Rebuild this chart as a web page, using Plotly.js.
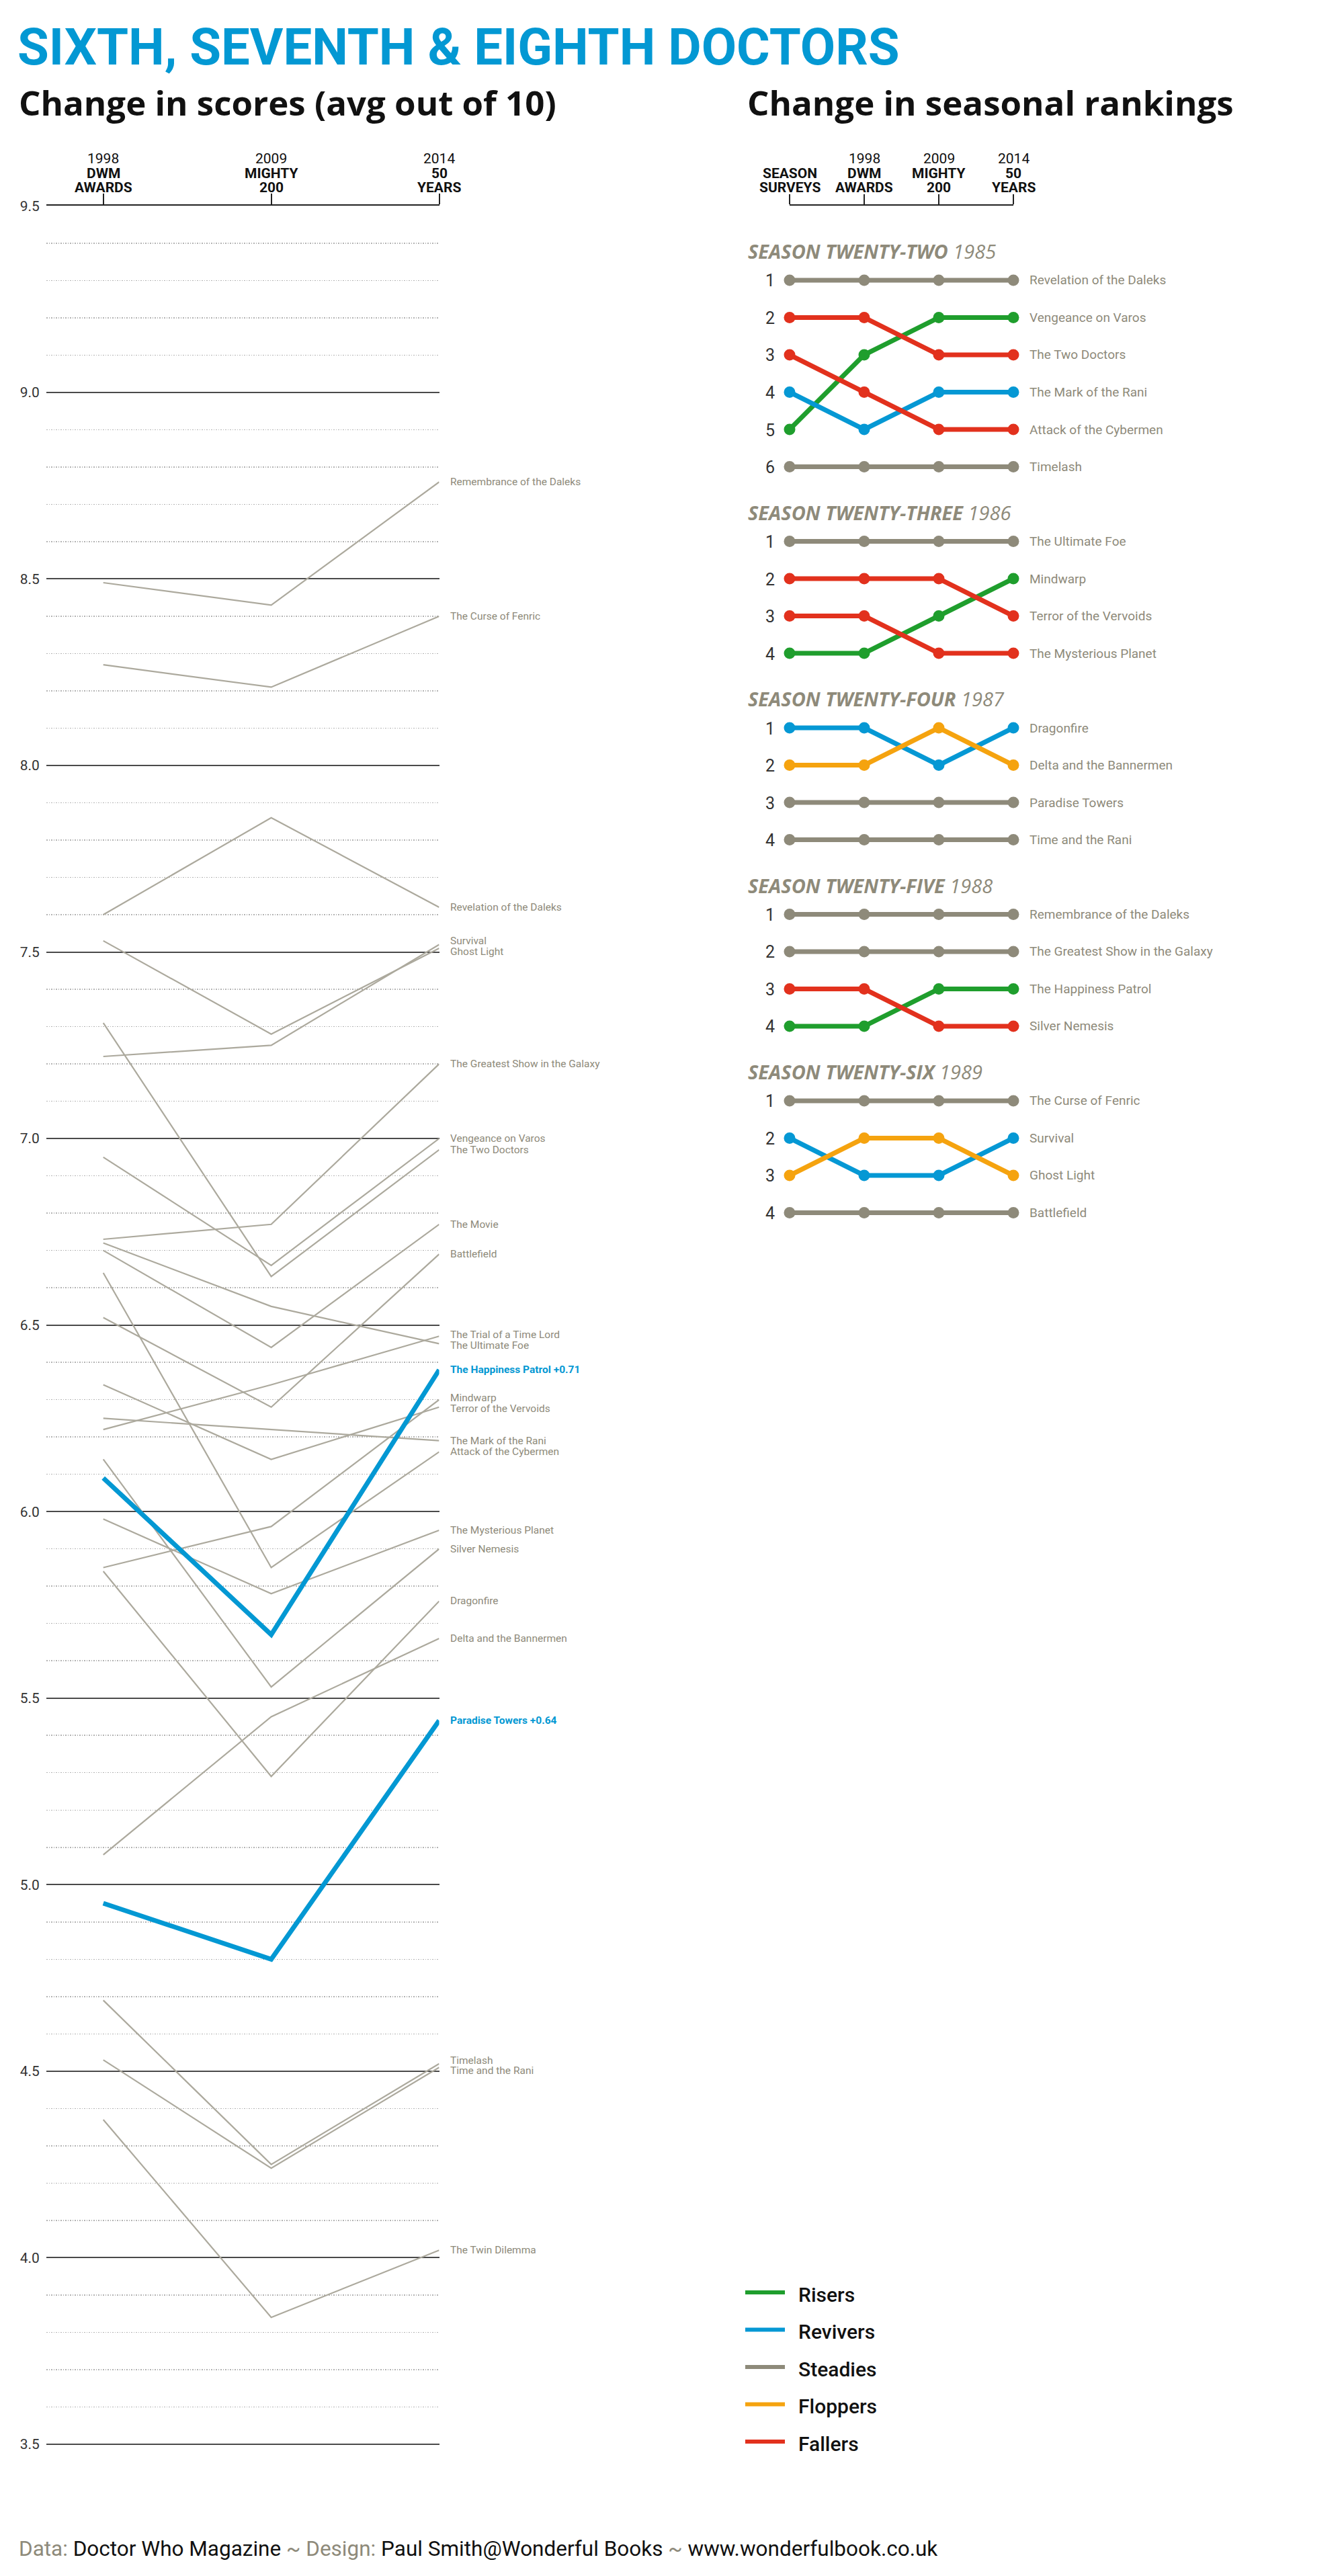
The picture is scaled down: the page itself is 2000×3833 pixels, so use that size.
<!DOCTYPE html>
<html><head><meta charset="utf-8">
<script src="https://cdn.plot.ly/plotly-3.0.1.min.js"></script>
<style>html,body{margin:0;padding:0;background:#fff}#chart{width:2000px;height:3833px}</style>
</head><body><div id="chart"></div>
<script>
// ================= DATA =================
// Left chart: average scores out of 10
const scoreYears = ['1998', '2009', '2014'];
const scoreSources = [['DWM', 'AWARDS'], ['MIGHTY', '200'], ['50', 'YEARS']];
const stories = [
  'Remembrance of the Daleks', 'The Curse of Fenric', 'Revelation of the Daleks', 'Survival', 'Ghost Light',
  'The Greatest Show in the Galaxy', 'Vengeance on Varos', 'The Two Doctors', 'The Movie', 'Battlefield',
  'The Trial of a Time Lord', 'The Ultimate Foe', 'The Happiness Patrol', 'Mindwarp', 'Terror of the Vervoids',
  'The Mark of the Rani', 'Attack of the Cybermen', 'The Mysterious Planet', 'Silver Nemesis', 'Dragonfire',
  'Delta and the Bannermen', 'Paradise Towers', 'Timelash', 'Time and the Rani', 'The Twin Dilemma'
];
const scores1998 = [8.49, 8.27, 7.60, 7.22, 7.53, 6.73, 6.95, 7.31, 6.70, 6.52, 6.22, 6.72, 6.09, 5.85, 6.34, 6.25, 6.64, 5.98, 6.14, 5.84, 5.08, 4.95, 4.69, 4.53, 4.37];
const scores2009 = [8.43, 8.21, 7.86, 7.25, 7.28, 6.77, 6.66, 6.63, 6.44, 6.28, 6.34, 6.55, 5.67, 5.96, 6.14, 6.22, 5.85, 5.78, 5.53, 5.29, 5.45, 4.80, 4.25, 4.24, 3.84];
const scores2014 = [8.76, 8.40, 7.62, 7.52, 7.51, 7.20, 7.00, 6.97, 6.77, 6.69, 6.47, 6.45, 6.38, 6.30, 6.28, 6.19, 6.16, 5.95, 5.90, 5.76, 5.66, 5.44, 4.52, 4.51, 4.02];
const highlightedStories = ['The Happiness Patrol', 'Paradise Towers'];
const scoreTicks = [3.5, 4.0, 4.5, 5.0, 5.5, 6.0, 6.5, 7.0, 7.5, 8.0, 8.5, 9.0, 9.5];

// Right chart: seasonal rankings [season survey, 1998, 2009, 2014]
const rankColumns = [['', 'SEASON', 'SURVEYS'], ['1998', 'DWM', 'AWARDS'], ['2009', 'MIGHTY', '200'], ['2014', '50', 'YEARS']];
const seasonNames = ['SEASON TWENTY-TWO', 'SEASON TWENTY-THREE', 'SEASON TWENTY-FOUR', 'SEASON TWENTY-FIVE', 'SEASON TWENTY-SIX'];
const seasonYears = ['1985', '1986', '1987', '1988', '1989'];
const rankStories = [
  'Revelation of the Daleks', 'Vengeance on Varos', 'The Two Doctors', 'The Mark of the Rani', 'Attack of the Cybermen', 'Timelash',
  'The Ultimate Foe', 'Mindwarp', 'Terror of the Vervoids', 'The Mysterious Planet',
  'Dragonfire', 'Delta and the Bannermen', 'Paradise Towers', 'Time and the Rani',
  'Remembrance of the Daleks', 'The Greatest Show in the Galaxy', 'The Happiness Patrol', 'Silver Nemesis',
  'The Curse of Fenric', 'Survival', 'Ghost Light', 'Battlefield'
];
const rankSeason = [0,0,0,0,0,0, 1,1,1,1, 2,2,2,2, 3,3,3,3, 4,4,4,4];
const rankSurvey = [1,5,2,4,3,6, 1,4,2,3, 1,2,3,4, 1,2,4,3, 1,2,3,4];
const rank1998   = [1,3,2,5,4,6, 1,4,2,3, 1,2,3,4, 1,2,4,3, 1,3,2,4];
const rank2009   = [1,2,3,4,5,6, 1,3,2,4, 2,1,3,4, 1,2,3,4, 1,3,2,4];
const rank2014   = [1,2,3,4,5,6, 1,2,3,4, 1,2,3,4, 1,2,3,4, 1,2,3,4];
const rankGroup  = ['Steadies','Risers','Fallers','Revivers','Fallers','Steadies',
  'Steadies','Risers','Fallers','Fallers',
  'Revivers','Floppers','Steadies','Steadies',
  'Steadies','Steadies','Risers','Fallers',
  'Steadies','Revivers','Floppers','Steadies'];
const groupNames = ['Risers', 'Revivers', 'Steadies', 'Floppers', 'Fallers'];

// ================= STYLE / LAYOUT =================
const W = 2000, H = 3833;
const py = px => 1 - px / H;
const groupColors = {Risers: '#1f9e2d', Revivers: '#0598d4', Steadies: '#8e8a7a', Floppers: '#f5a30f', Fallers: '#e2311d'};
const BLUE = '#0398d3', OLIVE = '#8e8a7a', LINEGRAY = '#aca99d';
const FONT = 'Roboto, "Open Sans", sans-serif';
const HFONT = '"Open Sans", Roboto, sans-serif';

// left axis geometry
const Y_TOP = 306.4, Y_BOT = 3637;
// right axis geometry
const SLOT0 = 417, SLOT = 55.5, R_BOT = 1900;

const traces = [];
// left chart lines (grey first, highlights last)
const order = stories.map((s, i) => i).sort((a, b) =>
  (highlightedStories.includes(stories[a]) ? 1 : 0) - (highlightedStories.includes(stories[b]) ? 1 : 0));
order.forEach(i => {
  const hl = highlightedStories.includes(stories[i]);
  traces.push({
    type: 'scatter', mode: 'lines', x: [0, 1, 2], y: [scores1998[i], scores2009[i], scores2014[i]],
    xaxis: 'x', yaxis: 'y', hoverinfo: 'skip', showlegend: false, cliponaxis: false,
    line: {color: hl ? BLUE : LINEGRAY, width: hl ? 7 : 2.2}
  });
});

// season start slots
const seasonStart = [];
let acc = 0;
seasonNames.forEach((s, k) => {
  seasonStart.push(acc);
  acc += rankSeason.filter(v => v === k).length + 1;
});
const slotOf = (season, rank) => seasonStart[season] + rank - 1;

// right chart lines: steadies first
const rOrder = rankStories.map((s, i) => i).sort((a, b) =>
  (rankGroup[a] === 'Steadies' ? 0 : 1) - (rankGroup[b] === 'Steadies' ? 0 : 1));
rOrder.forEach(i => {
  const c = groupColors[rankGroup[i]];
  traces.push({
    type: 'scatter', mode: 'lines+markers', x: [0, 1, 2, 3],
    y: [rankSurvey[i], rank1998[i], rank2009[i], rank2014[i]].map(r => slotOf(rankSeason[i], r)),
    xaxis: 'x2', yaxis: 'y2', hoverinfo: 'skip', showlegend: false, cliponaxis: false,
    line: {color: c, width: 7}, marker: {color: c, size: 17}
  });
});

const annotations = [];
const shapes = [];

// Titles
annotations.push({xref: 'paper', yref: 'paper', x: 24 / W, y: py(70), xanchor: 'left', yanchor: 'middle', showarrow: false,
  text: '<b>SIXTH, SEVENTH &amp; EIGHTH DOCTORS</b>', font: {family: FONT, size: 76, color: BLUE}});
annotations.push({xref: 'paper', yref: 'paper', x: 26 / W, y: py(152), xanchor: 'left', yanchor: 'middle', showarrow: false,
  text: '<b>Change in scores (avg out of 10)</b>', font: {family: HFONT, size: 51, color: '#111'}});
annotations.push({xref: 'paper', yref: 'paper', x: 1110 / W, y: py(152), xanchor: 'left', yanchor: 'middle', showarrow: false,
  text: '<b>Change in seasonal rankings</b>', font: {family: HFONT, size: 51, color: '#111'}});

// Header lines
const HEAD_Y = [236, 258, 279];
scoreYears.forEach((yr, i) => {
  [yr, scoreSources[i][0], scoreSources[i][1]].forEach((t, j) => {
    annotations.push({xref: 'x', yref: 'paper', x: i, y: py(HEAD_Y[j]), xanchor: 'center', yanchor: 'middle', showarrow: false,
      text: j === 0 ? t : '<b>' + t + '</b>', font: {family: FONT, size: 21, color: '#111'}});
  });
});
rankColumns.forEach((col, i) => {
  col.forEach((t, j) => {
    if (!t) return;
    annotations.push({xref: 'x2', yref: 'paper', x: i, y: py(HEAD_Y[j]), xanchor: 'center', yanchor: 'middle', showarrow: false,
      text: j === 0 ? t : '<b>' + t + '</b>', font: {family: FONT, size: 21, color: '#111'}});
  });
});

// Left labels with collision spreading
const GAP = 0.028;
function spread(vals) {
  const idx = vals.map((v, i) => i).sort((a, b) => vals[b] - vals[a]);
  const clusters = [];
  idx.forEach(i => {
    clusters.push({members: [i], center: vals[i]});
    while (clusters.length > 1) {
      const c = clusters[clusters.length - 1], p = clusters[clusters.length - 2];
      const pBot = p.center - (p.members.length - 1) * GAP / 2;
      const cTop = c.center + (c.members.length - 1) * GAP / 2;
      if (pBot - cTop < GAP) {
        const m = p.members.concat(c.members);
        const center = m.reduce((s, k) => s + vals[k], 0) / m.length;
        clusters.splice(-2, 2, {members: m, center});
      } else break;
    }
  });
  const out = new Array(vals.length);
  clusters.forEach(c => {
    const top = c.center + (c.members.length - 1) * GAP / 2;
    c.members.forEach((k, j) => { out[k] = top - j * GAP; });
  });
  return out;
}
const labelY = spread(scores2014);
stories.forEach((s, i) => {
  const hl = highlightedStories.includes(s);
  const delta = scores2014[i] - scores2009[i];
  annotations.push({xref: 'x', yref: 'y', x: 2, y: labelY[i], xanchor: 'left', yanchor: 'middle', xshift: 14, showarrow: false,
    text: hl ? '<b>' + s + ' +' + delta.toFixed(2) + '</b>' : s,
    font: {family: FONT, size: 15.5, color: hl ? BLUE : OLIVE}});
});

// Right chart: season titles, rank numbers, labels
seasonNames.forEach((name, k) => {
  annotations.push({xref: 'paper', yref: 'y2', x: 1111 / W, y: seasonStart[k] - 0.78, xanchor: 'left', yanchor: 'middle', showarrow: false,
    text: '<b><i>' + name + '</i></b> <i>' + seasonYears[k] + '</i>', font: {family: HFONT, size: 29, color: OLIVE}});
  const n = rankSeason.filter(v => v === k).length;
  for (let r = 1; r <= n; r++) {
    annotations.push({xref: 'x2', yref: 'y2', x: 0, y: slotOf(k, r), xanchor: 'center', yanchor: 'middle', xshift: -29, yshift: -1, showarrow: false,
      text: String(r), font: {family: FONT, size: 25, color: '#333'}});
  }
});
rankStories.forEach((s, i) => {
  annotations.push({xref: 'x2', yref: 'y2', x: 3, y: slotOf(rankSeason[i], rank2014[i]), xanchor: 'left', yanchor: 'middle', xshift: 22, showarrow: false,
    text: s, font: {family: FONT, size: 19, color: OLIVE}});
});

// Legend (custom)
groupNames.forEach((g, i) => {
  const yy = 3411 + i * 55.5;
  shapes.push({type: 'line', xref: 'paper', yref: 'paper', x0: 1109 / W, x1: 1168 / W, y0: py(yy), y1: py(yy),
    line: {color: groupColors[g], width: 6}});
  annotations.push({xref: 'paper', yref: 'paper', x: 1186 / W, y: py(yy + 3), xanchor: 'left', yanchor: 'middle', showarrow: false,
    text: g, font: {family: FONT, size: 30, color: '#111', weight: 500}});
});

// Footer
annotations.push({xref: 'paper', yref: 'paper', x: 26 / W, y: py(3792), xanchor: 'left', yanchor: 'middle', showarrow: false,
  text: '<span style="color:' + OLIVE + '">Data:</span> Doctor Who Magazine <span style="color:' + OLIVE + '">~ Design:</span> Paul Smith@Wonderful Books <span style="color:' + OLIVE + '">~</span> www.wonderfulbook.co.uk',
  font: {family: FONT, size: 31.5, color: '#111'}});

const layout = {
  width: W, height: H, margin: {l: 0, r: 0, t: 0, b: 0, pad: 0},
  paper_bgcolor: '#fff', plot_bgcolor: 'rgba(0,0,0,0)', showlegend: false,
  font: {family: FONT, color: '#333'},
  xaxis: {domain: [69 / W, 653.5 / W], range: [-0.339, 2], anchor: 'y', side: 'top', showline: true, linecolor: '#222', linewidth: 2,
    ticks: 'outside', ticklen: 16, tickwidth: 2, tickcolor: '#222', tickmode: 'array', tickvals: [0, 1, 2],
    showticklabels: false, showgrid: false, zeroline: false, fixedrange: true},
  yaxis: {domain: [py(Y_BOT + 1), py(Y_TOP)], range: [3.498, 9.5], anchor: 'x', tickmode: 'array', tickvals: scoreTicks,
    ticktext: scoreTicks.map(v => v.toFixed(1)), showgrid: true, gridcolor: '#4a4a4a', gridwidth: 2, zeroline: false,
    ticks: 'outside', ticklen: 5, tickcolor: 'rgba(0,0,0,0)', tickfont: {family: FONT, size: 21, color: '#333'},
    minor: {dtick: 0.1, tick0: 3.5, showgrid: true, gridcolor: '#b3b3b3', griddash: '1.5px,2px', gridwidth: 1.5, ticks: ''},
    fixedrange: true},
  xaxis2: {domain: [1175 / W, 1508 / W], range: [0, 3], anchor: 'y2', side: 'top', showline: true, linecolor: '#222', linewidth: 2,
    ticks: 'outside', ticklen: 15, tickwidth: 2, tickcolor: '#222', tickmode: 'array', tickvals: [0, 1, 2, 3],
    showticklabels: false, showgrid: false, zeroline: false, fixedrange: true},
  yaxis2: {domain: [py(R_BOT), py(Y_TOP)], range: [(R_BOT - SLOT0) / SLOT, (Y_TOP - SLOT0) / SLOT], anchor: 'x2',
    showgrid: false, zeroline: false, showline: false, showticklabels: false, ticks: '', fixedrange: true},
  annotations: annotations,
  shapes: shapes
};

Plotly.newPlot('chart', traces, layout, {displayModeBar: false, staticPlot: true});
</script></body></html>
